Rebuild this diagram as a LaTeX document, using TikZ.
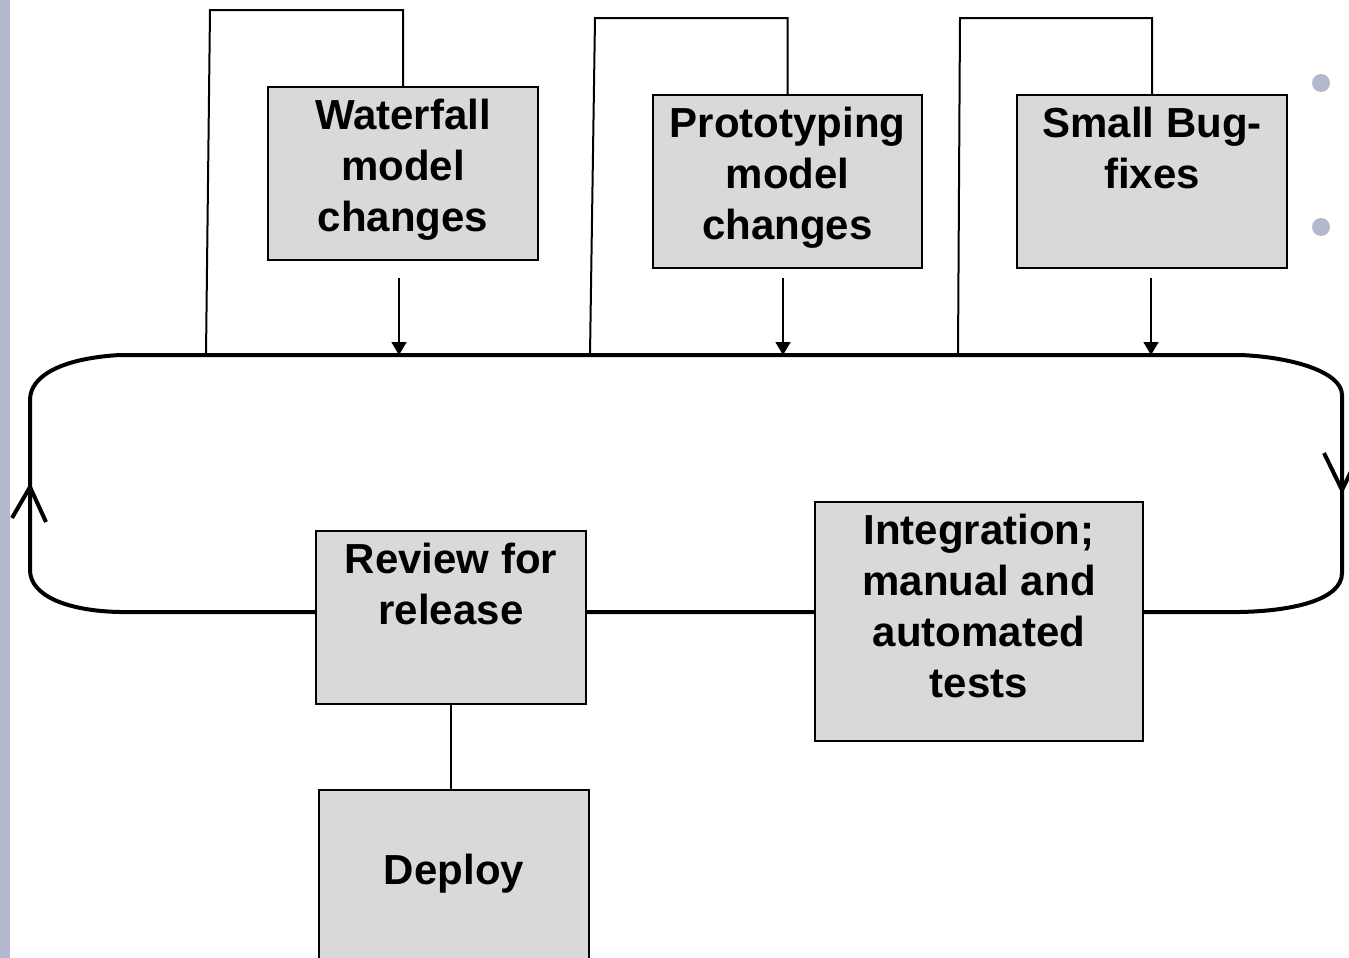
\documentclass[tikz,border=0pt]{standalone}
\usepackage{fontspec}
\setmainfont{Liberation Sans}
\usetikzlibrary{arrows.meta}
\definecolor{slidebar}{HTML}{B4B8CF}
\definecolor{boxgray}{HTML}{D9D9D9}
% box content: width, height, first-baseline depth, text
\newcommand\boxlabel[4]{\parbox[c][#2][t]{#1}{\centering\rule{0pt}{#3}#4}}
\tikzset{
  stagebox/.style={draw=black, line width=1pt, fill=boxgray, inner sep=0pt, anchor=north west},
  cycleline/.style={line width=2pt, line cap=butt, line join=round},
  bracket/.style={line width=1pt},
  feed/.style={line width=0.75pt, -{Triangle[length=6.5pt,width=7.5pt]}},
  link/.style={line width=1pt},
}
\begin{document}
\begin{tikzpicture}[x=0.5pt, y=-0.5pt, font=\fontsize{21}{25.5}\selectfont\bfseries]
\useasboundingbox (0,0) rectangle (1349,958);
\clip (0,0) rectangle (1349,958);

% slide decorations
\fill[slidebar] (0,0) rectangle (10,958);
\fill[slidebar] (1321,83) circle[radius=4.5pt];
\fill[slidebar] (1321,227) circle[radius=4.5pt];

% the release cycle loop
\draw[cycleline]
  (120,355) -- (1240,355)
  .. controls (1292,357) and (1342,372) .. (1342,395)
  -- (1342,573)
  .. controls (1342,600) and (1292,611) .. (1240,612)
  -- (120,612)
  .. controls (68,611) and (30,596) .. (30,570)
  -- (30,400)
  .. controls (30,374) and (66,358) .. (120,355);
% direction marks on the loop
\draw[cycleline] (12,518) -- (30,487) -- (46,522);
\draw[cycleline] (1324,453) -- (1342,490) -- (1360,453);

% change sources
\node[stagebox] (wf) at (267,86)
  {\boxlabel{135pt}{86.5pt}{21pt}{Waterfall\\model\\changes}};
\node[stagebox] (pr) at (652,94)
  {\boxlabel{134.5pt}{86.5pt}{21pt}{Prototyping\\model\\changes}};
\node[stagebox] (bf) at (1016,94)
  {\boxlabel{135pt}{86.5pt}{21pt}{Small Bug-\\fixes}};

% cycle stages
\node[stagebox] (rv) at (315,530)
  {\boxlabel{135pt}{86.5pt}{21pt}{Review for\\release}};
\node[stagebox] (it) at (814,501)
  {\boxlabel{164pt}{119.5pt}{21pt}{Integration;\\manual and\\automated\\tests}};
\node[stagebox] (dp) at (318,789)
  {\boxlabel{135pt}{90pt}{47pt}{Deploy}};

% feedback brackets into the loop
\coordinate (wftop) at (210,10);   \coordinate (wfin) at (206,355);
\coordinate (prtop) at (595,18);   \coordinate (prin) at (590,355);
\coordinate (bftop) at (960,18);   \coordinate (bfin) at (958,355);
\draw[bracket] (wf.north) |- (wftop) -- (wfin);
\draw[bracket] (pr.north) |- (prtop) -- (prin);
\draw[bracket] (bf.north) |- (bftop) -- (bfin);

% changes fed into the loop
\coordinate (wfa) at (399,278); \coordinate (wfb) at (399,355);
\coordinate (pra) at (783,278); \coordinate (prb) at (783,355);
\coordinate (bfa) at (1151,278); \coordinate (bfb) at (1151,355);
\draw[feed] (wfa) -- (wfb);
\draw[feed] (pra) -- (prb);
\draw[feed] (bfa) -- (bfb);

% review leads to deployment
\draw[link] (rv.south) -- (rv.south |- dp.north);
\end{tikzpicture}
\end{document}
